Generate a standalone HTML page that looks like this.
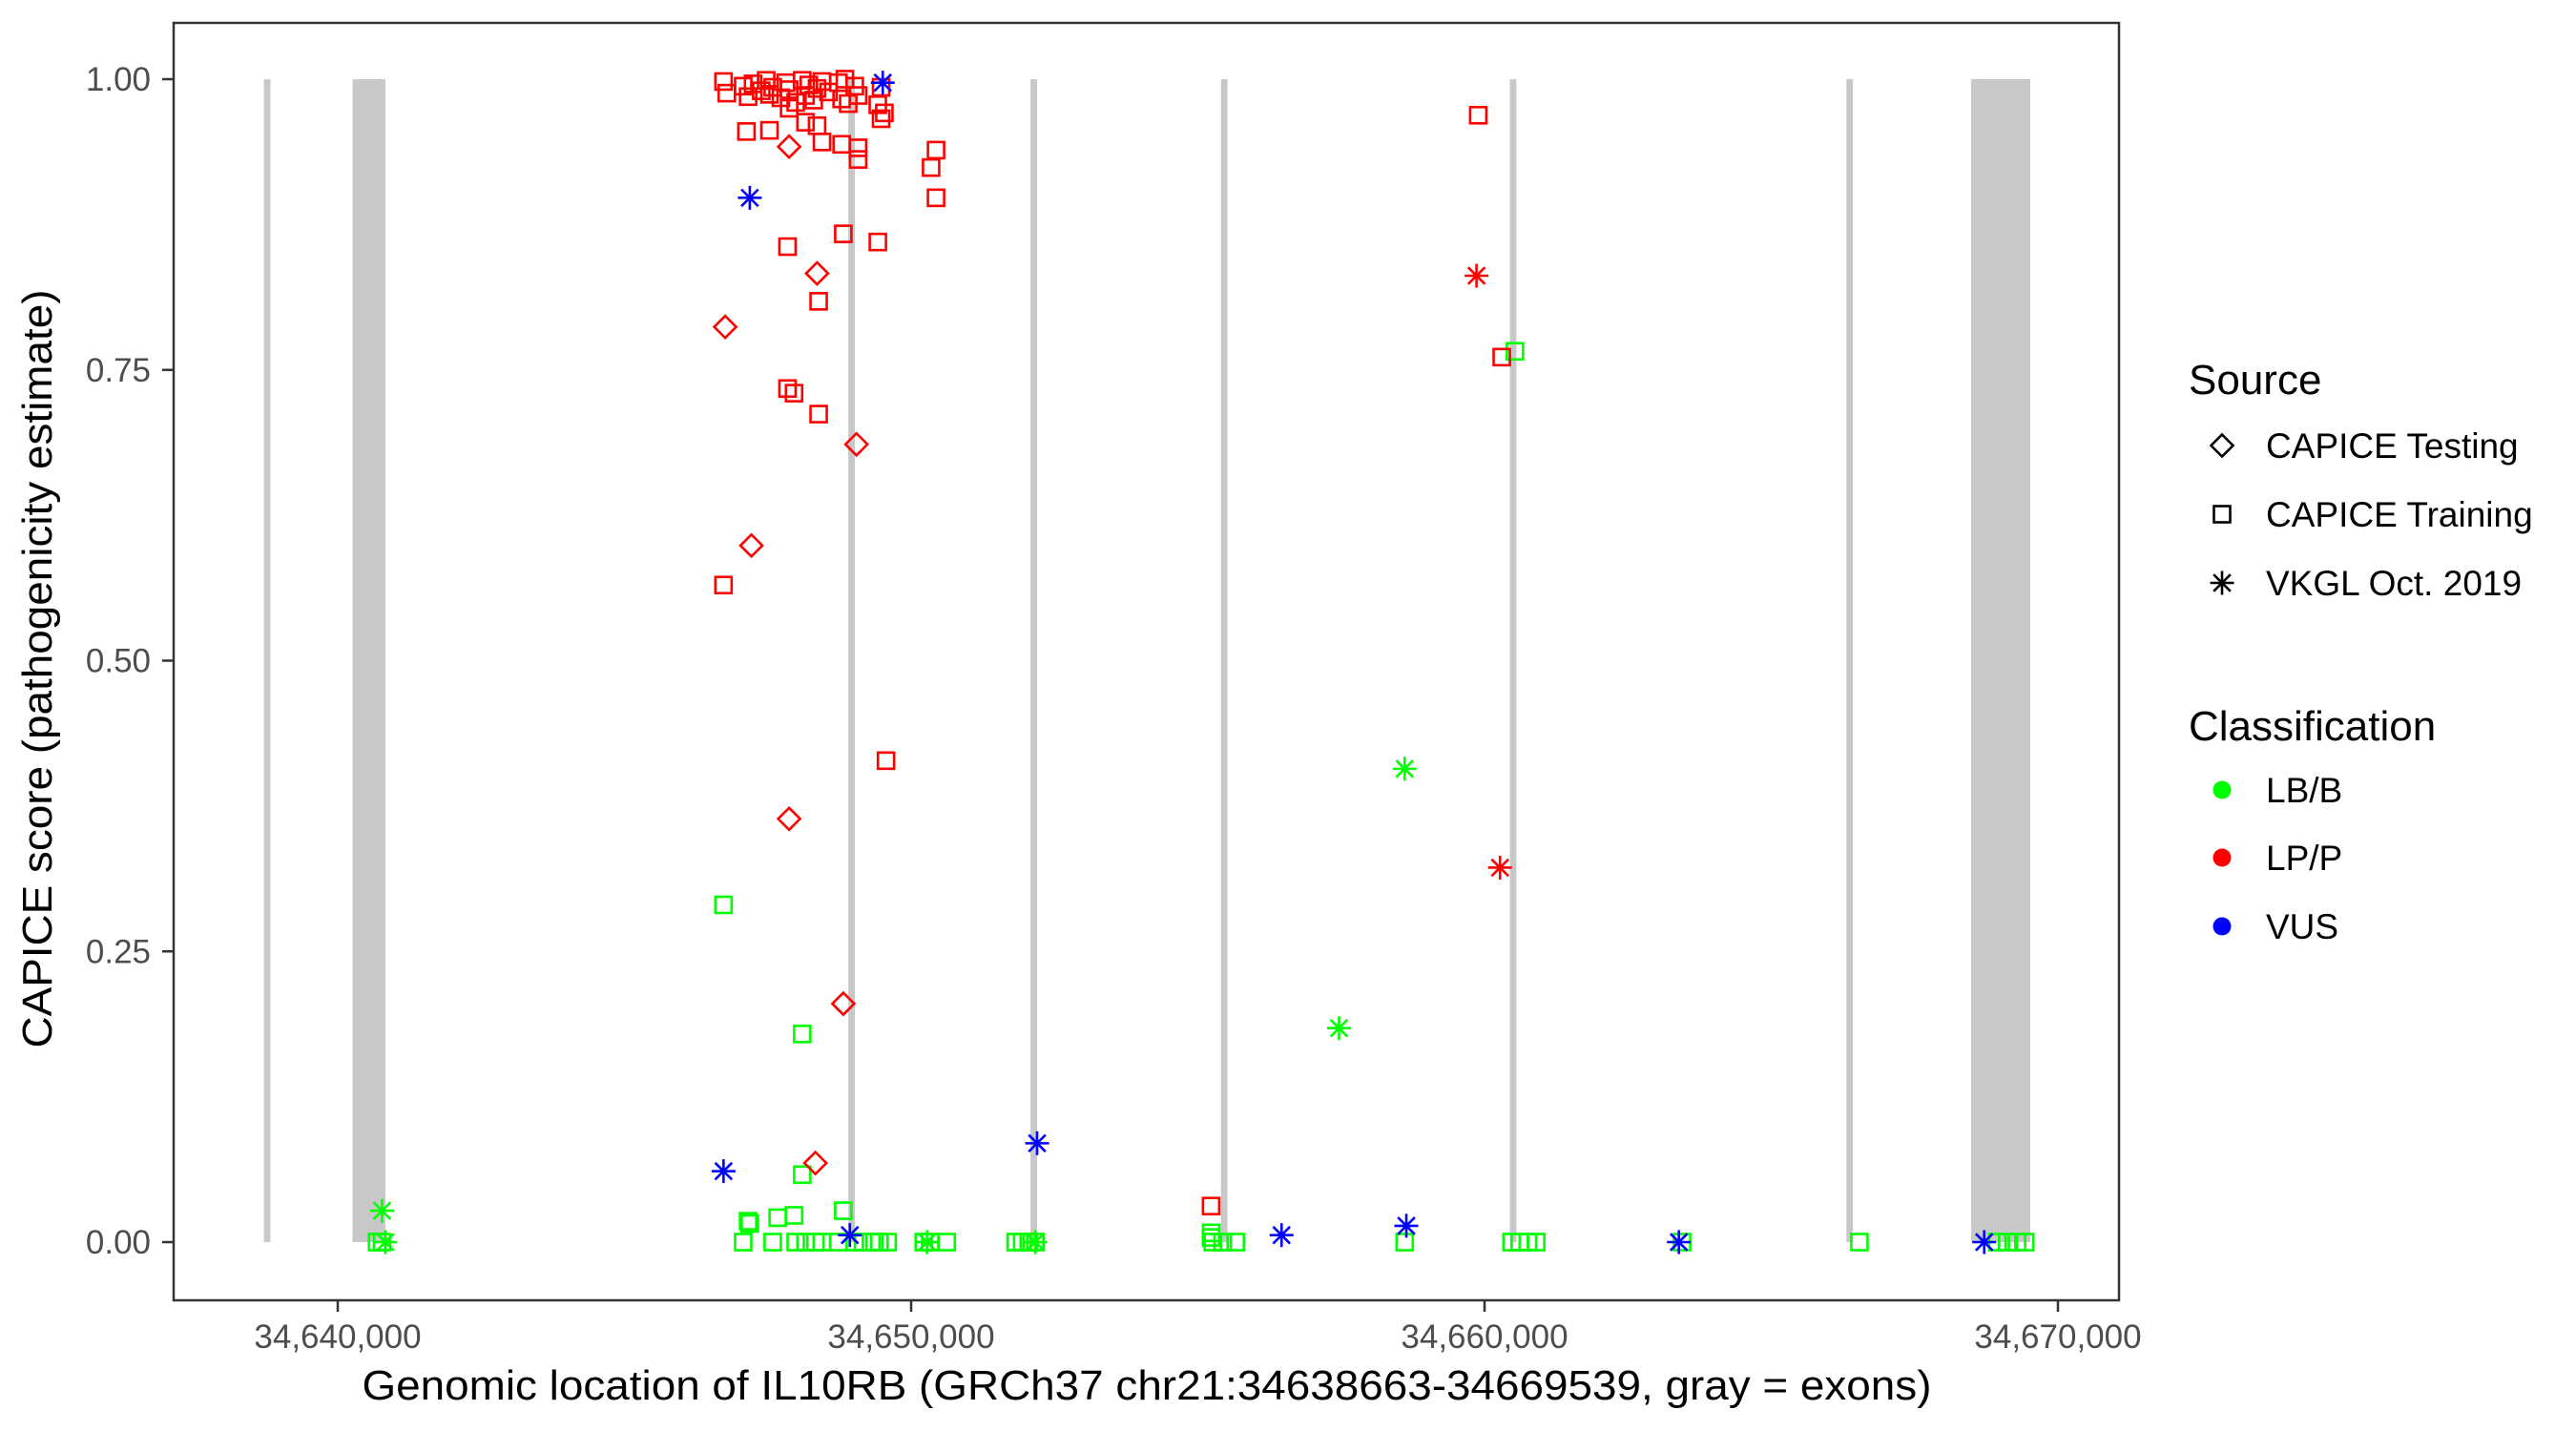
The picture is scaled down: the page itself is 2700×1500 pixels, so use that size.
<!DOCTYPE html>
<html><head><meta charset="utf-8"><title>IL10RB CAPICE scores</title>
<style>html,body{margin:0;padding:0;background:#fff;}svg{display:block;font-family:"Liberation Sans",Arial,sans-serif;}</style>
</head><body>
<svg id="chart" width="2700" height="1500" viewBox="0 0 2700 1500" xmlns="http://www.w3.org/2000/svg">
<rect width="2700" height="1500" fill="#fff"/>
<g id="exons"></g>
<g id="points"></g>
<rect x="182" y="24" width="2039" height="1339" fill="none" stroke="#333" stroke-width="2.5"/>
<g id="axes"></g>
<text x="1202" y="1467" font-size="44" text-anchor="middle" textLength="1645" lengthAdjust="spacingAndGlyphs">Genomic location of IL10RB (GRCh37 chr21:34638663-34669539, gray = exons)</text>
<text transform="translate(54,701) rotate(-90)" font-size="44" text-anchor="middle" textLength="795" lengthAdjust="spacingAndGlyphs">CAPICE score (pathogenicity estimate)</text>
<g id="legend">
<text x="2294" y="413" font-size="44">Source</text>
<text x="2294" y="776" font-size="44">Classification</text>
<text x="2375" y="480" font-size="37">CAPICE Testing</text>
<text x="2375" y="552" font-size="37">CAPICE Training</text>
<text x="2375" y="624" font-size="37">VKGL Oct. 2019</text>
<text x="2375" y="841" font-size="37">LB/B</text>
<text x="2375" y="912" font-size="37">LP/P</text>
<text x="2375" y="984" font-size="37">VUS</text>
<circle cx="2329" cy="828" r="9.5" fill="#00ff00"/>
<circle cx="2329" cy="899" r="9.5" fill="#ff0000"/>
<circle cx="2329" cy="971" r="9.5" fill="#0000ff"/>
</g>
</svg>
<script>
// Data (positions in kb on chr21)
const exonStart = [34638.712,34640.258,34648.904,34652.082,34655.403,34660.442,34666.311,34668.487];
const exonEnd   = [34638.826,34640.830,34649.018,34652.196,34655.517,34660.556,34666.425,34669.518];
const xTicks = [34640000,34650000,34660000,34670000];
const xTickLabels = ["34,640,000","34,650,000","34,660,000","34,670,000"];
const yTicks = [0,0.25,0.5,0.75,1];
const yTickLabels = ["0.00","0.25","0.50","0.75","1.00"];
// red squares (CAPICE Training, LP/P)
const rsqPos = [34646.728,34646.785,34647.071,34647.157,34647.243,34647.386,34647.472,34647.529,34647.586,34647.729,34647.815,34647.872,34647.987,34648.101,34648.158,34648.216,34648.301,34648.359,34648.445,34648.559,34648.731,34648.788,34648.845,34648.903,34649.017,34649.075,34649.418,34649.476,34649.533,
34647.128,34647.529,34647.872,34648.158,34648.359,34648.445,34648.788,34649.075,34649.075,34649.476,34650.434,34650.348,34650.434,34648.817,34647.844,34649.419,34648.387,34659.890,34647.844,34647.958,34648.387,34660.300,34646.728,34649.562,34655.231];
const rsqScore = [0.998,0.988,0.994,0.985,0.996,0.99,0.999,0.987,0.993,0.984,0.997,0.991,0.98,0.999,0.986,0.995,0.982,0.992,0.998,0.989,0.997,0.983,1.0,0.979,0.994,0.986,0.978,0.993,0.971,
0.955,0.956,0.975,0.963,0.96,0.946,0.944,0.941,0.931,0.966,0.939,0.924,0.898,0.867,0.856,0.86,0.809,0.969,0.734,0.73,0.712,0.761,0.565,0.414,0.031];
// red diamonds (CAPICE Testing, LP/P)
const rdiPos = [34647.872,34648.359,34646.757,34649.046,34647.214,34647.872,34648.817,34648.330];
const rdiScore = [0.942,0.833,0.787,0.686,0.599,0.364,0.205,0.068];
// red asterisks (VKGL, LP/P)
const rstPos = [34659.860,34660.270];
const rstScore = [0.831,0.322];
// blue asterisks (VKGL, VUS)
const bstPos = [34649.505,34647.186,34646.728,34652.197,34648.931,34656.460,34658.636,34663.389,34668.714];
const bstScore = [0.997,0.898,0.061,0.085,0.006,0.006,0.014,0.0,0.0];
// green squares (CAPICE Training, LB/B)
const gsqPos = [34646.728,34660.530,34648.101,34648.101,34648.817,34647.672,34647.958,34647.157,34647.186,34655.231,34655.231,
34640.687,34640.773,34647.071,34647.586,34647.987,34648.158,34648.330,34648.445,34648.731,34649.017,34649.161,34649.361,34649.447,34649.590,34650.220,34650.334,34650.620,34651.823,34651.937,34652.052,34652.166,34655.260,34655.432,34655.661,34658.607,34660.471,34660.614,34660.758,34660.901,34663.446,34666.538,34668.943,34669.115,34669.286,34669.429];
const gsqScore = [0.29,0.766,0.179,0.058,0.027,0.021,0.023,0.018,0.016,0.008,0.004,
0,0,0,0,0,0,0,0,0,0,0,0,0,0,0,0,0,0,0,0,0,0,0,0,0,0,0,0,0,0,0,0,0,0,0];
// green asterisks (VKGL, LB/B)
const gstPos = [34640.773,34640.830,34658.607,34657.462,34650.277,34652.166];
const gstScore = [0.027,0.0,0.407,0.184,0.0,0.0];

const NS = "http://www.w3.org/2000/svg";
const X = g => 354 + (g - 34640000) * 1803 / 30000;
const XK = k => X(k * 1000);
const Y = s => 1302 - s * 1219;
function mk(tag, attrs, parent){const e=document.createElementNS(NS,tag);for(const k in attrs)e.setAttribute(k,attrs[k]);parent.appendChild(e);return e;}

const exG = document.getElementById('exons');
exonStart.forEach((s,i)=>{
  const r = mk('rect',{x:XK(s),y:Y(1),width:XK(exonEnd[i])-XK(s),height:Y(0)-Y(1),fill:'#c8c8c8'},exG);
  
  
});

const ax = document.getElementById('axes');
xTicks.forEach((t,i)=>{
  const l = mk('line',{x1:X(t),x2:X(t),y1:1363,y2:1375,stroke:'#333','stroke-width':2.5},ax);
  
  
  const tx = mk('text',{x:X(t),y:1413,'font-size':35,'text-anchor':'middle',fill:'#4d4d4d'},ax);
  tx.textContent = xTickLabels[i];
  
  
});
yTicks.forEach((t,i)=>{
  const l = mk('line',{x1:170,x2:182,y1:Y(t),y2:Y(t),stroke:'#333','stroke-width':2.5},ax);
  
  
  const tx = mk('text',{x:158,y:Y(t)+12,'font-size':35,'text-anchor':'end',fill:'#4d4d4d'},ax);
  tx.textContent = yTickLabels[i];
  
  
});

const pg = document.getElementById('points');
function square(cx,cy,c){const e=mk('rect',{x:cx-8.5,y:cy-8.5,width:17,height:17,fill:'none',stroke:c,'stroke-width':2.6},pg);return e;}
function diamond(cx,cy,c){const d=11.5;const e=mk('polygon',{points:`${cx},${cy-d} ${cx+d},${cy} ${cx},${cy+d} ${cx-d},${cy}`,fill:'none',stroke:c,'stroke-width':2.6},pg);return e;}
function star(cx,cy,c){const r=12.5,q=r*0.7071;const e=mk('path',{d:`M${cx-r} ${cy}H${cx+r}M${cx} ${cy-r}V${cy+r}M${cx-q} ${cy-q}L${cx+q} ${cy+q}M${cx-q} ${cy+q}L${cx+q} ${cy-q}`,fill:'none',stroke:c,'stroke-width':2.6},pg);return e;}
function draw(pos,score,fn,c,name){pos.forEach((p,i)=>{const e=fn(XK(p),Y(score[i]),c);
  
  });}
draw(gsqPos,gsqScore,square,'#00ff00','point-training-lbb');
draw(gstPos,gstScore,star,'#00ff00','point-vkgl-lbb');
draw(rsqPos,rsqScore,square,'#ff0000','point-training-lpp');
draw(rdiPos,rdiScore,diamond,'#ff0000','point-testing-lpp');
draw(rstPos,rstScore,star,'#ff0000','point-vkgl-lpp');
draw(bstPos,bstScore,star,'#0000ff','point-vkgl-vus');

const lg = document.getElementById('legend');
const ld = diamond(2329,467,'#000');   lg.appendChild(ld);
const ls = square(2329,539,'#000');   lg.appendChild(ls);
const la = star(2329,611,'#000');   lg.appendChild(la);
</script>
</body></html>
